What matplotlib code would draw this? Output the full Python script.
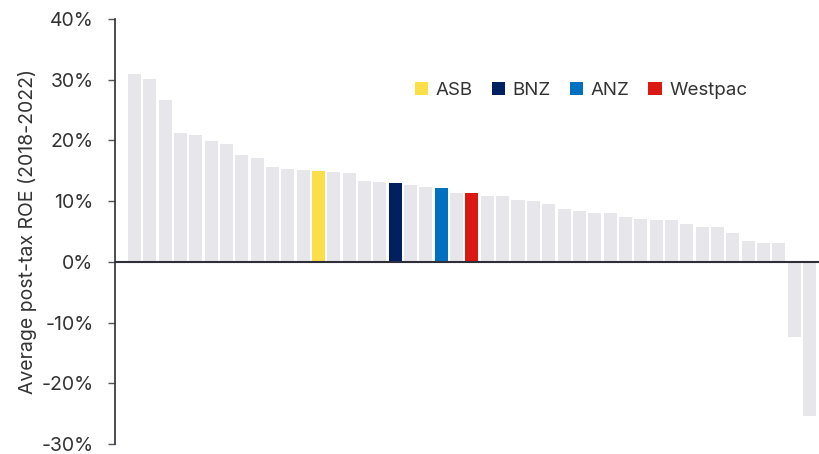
import matplotlib
matplotlib.use("Agg")
import matplotlib.pyplot as plt
from matplotlib.patches import Patch
from matplotlib.ticker import FuncFormatter

# average post-tax ROE per bank, sorted (percent)
roe = [30.9, 30.1, 26.6, 21.2, 20.9, 19.9, 19.4, 17.6, 17.1, 15.6,
       15.3, 15.1, 15.0, 14.8, 14.6, 13.3, 13.1, 12.95, 12.6, 12.4,
       12.2, 11.4, 11.3, 10.9, 10.8, 10.2, 10.0, 9.5, 8.7, 8.4,
       8.05, 8.05, 7.4, 7.1, 6.9, 6.9, 6.25, 5.75, 5.75, 4.8,
       3.5, 3.1, 3.1, -12.4, -25.4]
highlight = {12: "ASB", 17: "BNZ", 20: "ANZ", 22: "Westpac"}
bank_colors = {"ASB": "#FCDF48", "BNZ": "#00205F", "ANZ": "#0070C0", "Westpac": "#DA1A12"}
yticks = [-30, -20, -10, 0, 10, 20, 30, 40]

plt.rcParams['font.family'] = ['Inter', 'DejaVu Sans']
text_col = '#333333'

fig = plt.figure(figsize=(8.19, 4.54), dpi=100)
ax = fig.add_axes([0.1404, 0.022, 0.8596, 0.936])

colors = [bank_colors[highlight[i]] if i in highlight else '#E7E7EB' for i in range(len(roe))]
ax.bar(range(len(roe)), roe, width=0.85, color=colors, zorder=2)
ax.axhline(0, color='#2e2e38', lw=1.5, zorder=3)

ax.set_ylim(-30, 40)
ax.set_xlim(-1.27, 44.62)
ax.set_yticks(yticks)
ax.yaxis.set_major_formatter(FuncFormatter(lambda v, p: "%d%%" % v))
ax.tick_params(axis='y', direction='out', length=5, width=1, color='#555555',
               labelsize=14, labelcolor=text_col, pad=10.5)
ax.set_xticks([])
for s in ['top', 'right', 'bottom']:
    ax.spines[s].set_visible(False)
ax.spines['left'].set_color('#2e2e38')
ax.spines['left'].set_linewidth(1.2)

ax.set_ylabel("Average post-tax ROE (2018-2022)", fontsize=14, color=text_col, labelpad=3)

handles = [Patch(facecolor=bank_colors[b], label=b) for b in ["ASB", "BNZ", "ANZ", "Westpac"]]
leg = ax.legend(handles=handles, ncol=4, frameon=False, loc='center left',
                bbox_to_anchor=(0.402, 0.832), fontsize=13.5,
                handlelength=0.7, handleheight=0.7, handletextpad=0.42,
                columnspacing=1.0)
for t in leg.get_texts():
    t.set_color(text_col)

fig.savefig("out.png", dpi=100)
